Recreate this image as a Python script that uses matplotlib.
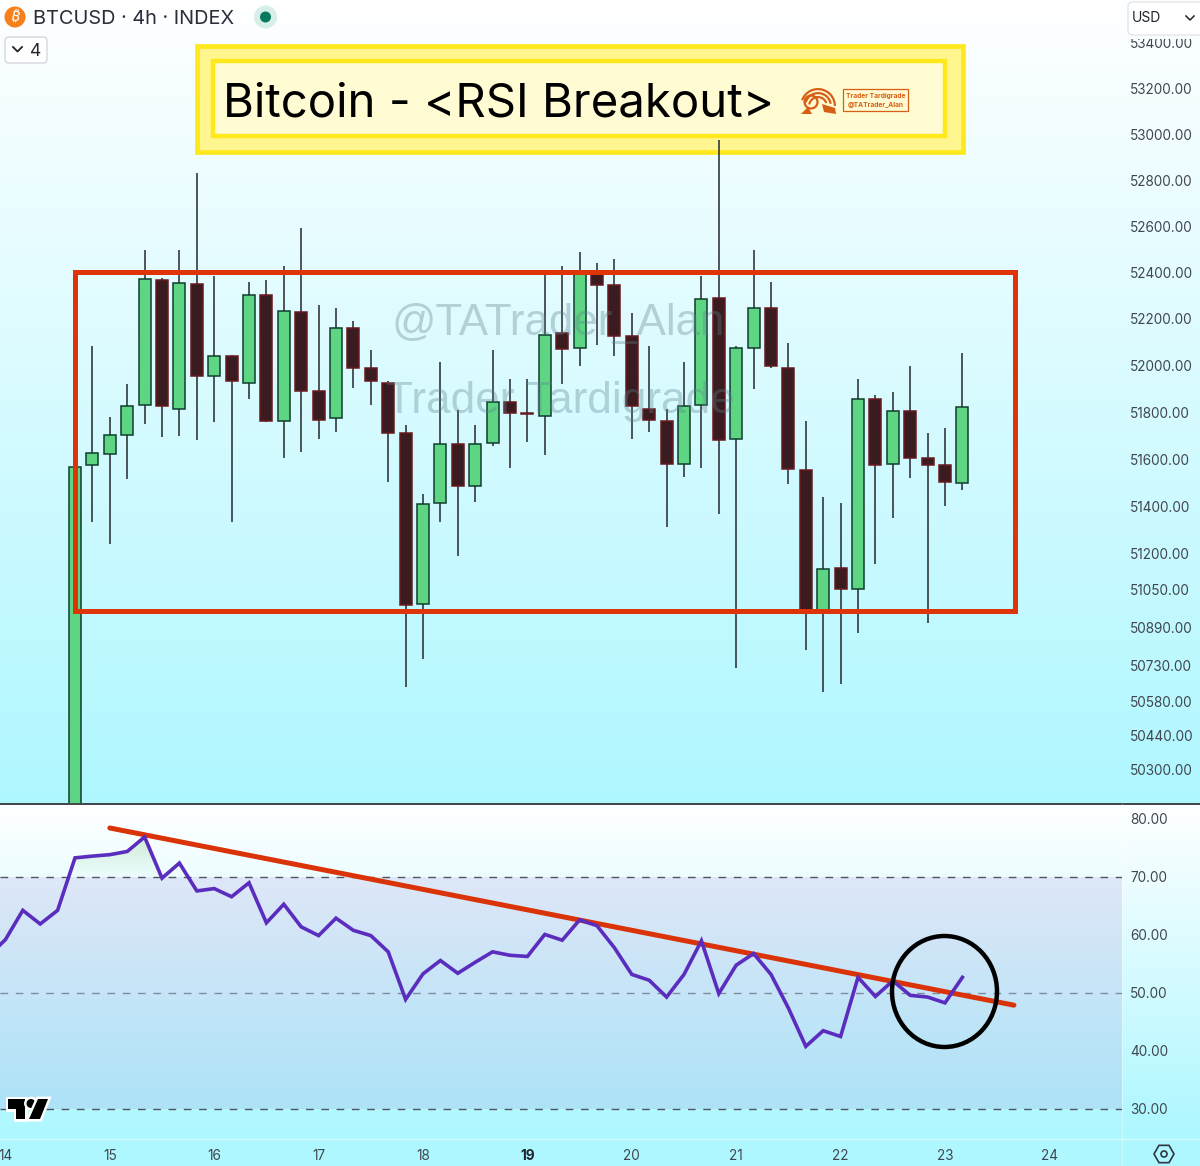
import numpy as np
import matplotlib
matplotlib.use("Agg")
import matplotlib.pyplot as plt
from matplotlib.patches import Rectangle, Ellipse, Circle, FancyBboxPatch, Polygon, Wedge, RegularPolygon
from matplotlib.colors import LinearSegmentedColormap
from matplotlib.ticker import NullLocator, FixedLocator, FixedFormatter
import matplotlib.patheffects as pe

plt.rcParams['font.family'] = ['Inter', 'DejaVu Sans']

# ---------- data ----------
opens = [49900, 51577, 51624, 51705, 51833, 52366, 51816, 52349, 51957, 52039, 51927, 52305, 51761,
         52228, 51889, 51774, 52163, 51991, 51927, 51710, 50990, 51415, 51667, 51488, 51671, 51842,
         51795, 51786, 52138, 52073, 52404, 52344, 52125, 51816, 51765, 51582, 51833, 52288, 51688,
         52073, 52245, 51991, 51556, 50961, 51141, 51053, 51855, 51582, 51804, 51607, 51577, 51500]
closes = [51569, 51628, 51705, 51829, 52370, 51825, 52353, 51957, 52039, 51932, 52305, 51765, 52232,
          51893, 51769, 52163, 51991, 51932, 51710, 50986, 51411, 51667, 51488, 51663, 51842, 51799,
          51791, 52129, 52069, 52404, 52344, 52125, 51825, 51769, 51582, 51829, 52284, 51684, 52073,
          52245, 51996, 51560, 50961, 51137, 51053, 51855, 51577, 51804, 51607, 51577, 51505, 51821]
highs = [51569, 52082, 51778, 51923, 52496, 52374, 52496, 52831, 52383, 52043, 52357, 52366, 52426,
         52591, 52258, 52245, 52189, 52065, 51932, 51744, 51453, 52017, 51808, 51744, 52065, 51944,
         51944, 52391, 52426, 52487, 52443, 52456, 52224, 52082, 51816, 52017, 52383, 52974, 52082,
         52496, 52357, 52095, 51765, 51440, 51415, 51944, 51872, 51885, 51996, 51710, 51735, 52052]
lows = [49900, 51334, 51240, 51517, 51752, 51693, 51697, 51680, 51757, 51334, 51855, 51757, 51607,
        51633, 51688, 51714, 51902, 51833, 51505, 50641, 50759, 51334, 51192, 51419, 51658, 51564,
        51675, 51620, 51919, 51996, 52086, 52039, 51688, 51714, 51313, 51526, 51564, 51368, 50721,
        51898, 51991, 51496, 50797, 50620, 50654, 50868, 51158, 51351, 51522, 50910, 51402, 51471]
rsi_start = -5
rsi = [56.3, 59.2, 64.25, 61.9, 64.25, 73.3, 73.6, 73.85, 74.4, 76.9, 69.8, 72.4, 67.6, 68.0, 66.6,
       69.0, 62.1, 65.3, 61.4, 59.9, 62.9, 60.8, 59.9, 57.1, 48.9, 53.3, 55.6, 53.4, 55.3, 57.1, 56.5,
       56.3, 60.1, 59.1, 62.6, 61.6, 57.8, 53.2, 52.2, 49.3, 53.2, 59.0, 49.9, 54.8, 56.8, 53.2, 47.4,
       40.8, 43.5, 42.5, 52.7, 49.4, 52.1, 49.6, 49.3, 48.3, 52.7]
price_ticks = [53400, 53200, 53000, 52800, 52600, 52400, 52200, 52000, 51800, 51600, 51400, 51200,
               51050, 50890, 50730, 50580, 50440, 50300]
rsi_ticks = [80, 70, 60, 50, 40, 30]
rsi_levels = [70, 50, 30]
day_labels = ['14', '15', '16', '17', '18', '19', '20', '21', '22', '23', '24']
day_index = [-4, 2, 8, 14, 20, 26, 32, 38, 44, 50, 56]
trend_x = [2.0, 53.96]
trend_y = [78.45, 47.9]

W, H = 1200, 1166
GREEN, GREEN_E = '#5DD583', '#0F3D2C'
RED, RED_E = '#3A1C20', '#6A1A1E'
WICK = '#2B3034'
AXC = '#40464F'
CY = (0.686, 0.969, 1.0)

fig = plt.figure(figsize=(12, 11.66), dpi=100)

def rect(x0, y0, x1, y1):
    return [x0 / W, 1 - y1 / H, (x1 - x0) / W, (y1 - y0) / H]

cmap = LinearSegmentedColormap.from_list('bg', [(1, 1, 1), CY])
# backgrounds
bg1 = fig.add_axes(rect(0, 0, 1200, 803), zorder=0); bg1.axis('off')
bg1.imshow(np.linspace(0, 1, 256)[:, None], cmap=cmap, aspect='auto', vmin=0, vmax=1)
bg2 = fig.add_axes(rect(0, 804, 1200, 1166), zorder=0); bg2.axis('off')
bg2.imshow(np.clip(np.linspace(0, 1.11, 256), 0, 1)[:, None], cmap=cmap, aspect='auto', vmin=0, vmax=1)

# ---------- title banner (sits under the candles: one wick crosses it) ----------
bn = fig.add_axes([0, 0, 1, 1], zorder=0.5)
bn.set_xlim(0, W); bn.set_ylim(H, 0); bn.axis('off'); bn.patch.set_alpha(0)
bn.add_patch(Rectangle((197, 46), 766, 105.5, fc='#FFF68F', ec='#FFE81C', lw=3.4))
bn.add_patch(Rectangle((212.5, 61), 732, 75, fc='#FFFBD2', ec='#FFE81C', lw=3.2))
bn.text(223, 116.5, 'Bitcoin - <RSI Breakout>', fontsize=34.1, color='black', ha='left', va='baseline',
        family='Inter')
LC = '#D65F16'
for r, t1, t2 in [(18, 200, 360), (14, 195, 350), (10, 190, 340)]:
    bn.add_patch(Wedge((818, 106), r, t1, t2, width=2.2, fc=LC, ec='none'))
bn.add_patch(Circle((811, 102), 6.5, fc='none', ec=LC, lw=1.6))
bn.add_patch(Polygon([[801, 114], [808, 107], [812, 114]], fc=LC, ec='none'))
bn.add_patch(Polygon([[822, 104], [835, 108], [836, 114], [824, 112]], fc=LC, ec='none'))
bn.add_patch(Rectangle((843, 89), 64.5, 22, fill=False, ec=LC, lw=0.9))
bn.text(875.5, 96, 'Trader Tardigrade', fontsize=4.8, color=LC, ha='center', va='center', fontweight='bold')
bn.text(875.5, 105, '@TATrader_Alan', fontsize=4.8, color=LC, ha='center', va='center', fontweight='bold')

XL = (-75 / 17.4, (1122 - 75) / 17.4)
idx = np.arange(len(opens))

# ---------- price pane ----------
ax = fig.add_axes(rect(0, 0, 1122, 803), zorder=1)
ax.patch.set_alpha(0)
ax.set_yscale('log')
ax.set_xlim(*XL)
ax.set_ylim(50160, 53589)
for s in ax.spines.values():
    s.set_visible(False)
ax.xaxis.set_major_locator(NullLocator())
ax.yaxis.set_minor_locator(NullLocator())
ax.yaxis.set_major_locator(FixedLocator(price_ticks))
ax.yaxis.set_major_formatter(FixedFormatter([f'{p:.2f}' for p in price_ticks]))
ax.yaxis.tick_right()
ax.tick_params(axis='y', length=0, pad=6, labelsize=9.8, labelcolor=AXC)

ax.vlines(idx, lows, highs, color=WICK, lw=1.15, zorder=2)
for i in idx:
    o, c = opens[i], closes[i]
    up = c >= o
    ax.bar(i, max(abs(c - o), 3), bottom=min(o, c), width=0.68, color=GREEN if up else RED,
           edgecolor=GREEN_E if up else RED_E, linewidth=1.1, zorder=3)

# ---------- RSI pane ----------
rx = fig.add_axes(rect(0, 804, 1122, 1166), zorder=1)
rx.patch.set_alpha(0)
rx.set_xlim(*XL)
YL = (30 - (1166 - 1109) / 5.8, 80 + 15 / 5.8)
rx.set_ylim(*YL)
for s in rx.spines.values():
    s.set_visible(False)
rsi_x = np.arange(len(rsi)) + rsi_start
rsi_v = np.array(rsi)
rx.axhspan(30, 70, color='#7E57C2', alpha=0.13, lw=0, zorder=1)
# overbought fill: green gradient clipped to the area between the line and 70
clip_poly = rx.fill_between(rsi_x, 70, rsi_v, where=rsi_v > 70, interpolate=True, color='none', lw=0)
grad = np.zeros((64, 2, 4))
grad[..., 0], grad[..., 1], grad[..., 2] = 0.30, 0.69, 0.31
grad[..., 3] = np.linspace(0.24, 0.0, 64)[:, None]
im = rx.imshow(grad, extent=(XL[0], XL[1], 70, 77), origin='upper', aspect='auto', zorder=1.5)
paths = clip_poly.get_paths()
im.set_clip_path(paths[0], transform=rx.transData)
rx.set_xlim(*XL); rx.set_ylim(*YL)
for lv, col in zip(rsi_levels, ['#4D5560', '#7F8C99', '#4D5560']):
    rx.axhline(lv, color=col, lw=1.0, dashes=(5.5, 5.5), zorder=2)
rx.plot(trend_x, trend_y, color='#DB3308', lw=3.6, solid_capstyle='round', zorder=3)
rx.plot(rsi_x, rsi_v, color='#5A2DBE', lw=2.6, solid_joinstyle='miter', zorder=4)
rx.yaxis.set_major_locator(FixedLocator(rsi_ticks))
rx.yaxis.set_major_formatter(FixedFormatter([f'{v:.2f}' for v in rsi_ticks]))
rx.yaxis.tick_right()
rx.tick_params(axis='y', length=0, pad=6, labelsize=9.8, labelcolor=AXC)
rx.xaxis.set_major_locator(FixedLocator(day_index))
rx.xaxis.set_major_formatter(FixedFormatter(day_labels))
rx.tick_params(axis='x', length=0, direction='in', pad=-12.6, labelsize=9.8, labelcolor=AXC)
for t in rx.get_xticklabels():
    if t.get_text() == '19':
        t.set_fontweight('bold')
        t.set_color('#1F2430')

# ---------- overlay (annotations, in pixel coordinates) ----------
ov = fig.add_axes([0, 0, 1, 1], zorder=5)
ov.set_xlim(0, W); ov.set_ylim(H, 0); ov.axis('off'); ov.patch.set_alpha(0)

# pane separators
ov.plot([0, 1200], [803.5, 803.5], color='#1E252B', lw=1.2)
ov.plot([0, 1200], [1138.5, 1138.5], color='white', lw=0.8, alpha=0.5)
ov.plot([1122, 1122], [804, 1166], color='white', lw=0.8, alpha=0.4)

# watermarks
ov.text(558.5, 323, '@TATrader_Alan', fontsize=31.5, color='#5B8088', alpha=0.34, ha='center', va='center',
        family='Liberation Sans')
ov.text(560, 402, 'Trader Tardigrade', fontsize=31.8, color='#5B8088', alpha=0.34, ha='center', va='center',
        family='Liberation Sans')

# red range box and breakout circle
ov.add_patch(Rectangle((75, 272), 940, 339, fill=False, ec='#DE3407', lw=3.6, joinstyle='miter'))
ov.add_patch(Ellipse((944.5, 991.5), 105, 111, fill=False, ec='black', lw=3.2))

# header
ov.add_patch(Circle((15, 17), 10.5, fc='#F7801A', ec='none'))
ov.text(15, 17, '₿', fontsize=11, color='white', ha='center', va='center', rotation=-12,
        family=['Noto Sans', 'Roboto', 'Open Sans', 'Lato', 'Liberation Sans', 'DejaVu Sans'], fontweight='bold')
ov.text(33, 19.5, 'BTCUSD · 4h · INDEX', fontsize=14.35, color='#2A2E39', ha='left', va='center')
ov.add_patch(Circle((265.5, 17), 11.5, fc='#D6EFE9', ec='none'))
ov.add_patch(Circle((265.5, 17), 5.5, fc='#08795F', ec='none'))
ov.add_patch(FancyBboxPatch((5, 37), 42, 26, boxstyle='round,pad=0,rounding_size=4', fc='white', ec='#D4D8DE', lw=1))
ov.plot([13, 17.5, 22], [47, 51.5, 47], color='#20242C', lw=1.3)
ov.text(35.5, 52, '4', fontsize=12.5, color='#20242C', ha='center', va='center')

# USD button (hides the top of the highest price label, as in the original)
ov.add_patch(Rectangle((1124, 0), 76, 39, fc='#FBFEFF', ec='none'))
ov.add_patch(FancyBboxPatch((1128, 2), 90, 33, boxstyle='round,pad=0,rounding_size=5', fc='white', ec='#E3E6EA', lw=1))
ov.text(1146, 18, 'USD', fontsize=10, color='#20242C', ha='center', va='center')
ov.plot([1186, 1190, 1194], [16, 20, 16], color='#20242C', lw=1.1)

# TradingView mark
halo = [pe.withStroke(linewidth=3.5, foreground='white')]
ov.add_patch(Polygon([[8, 1099], [25, 1099], [25, 1119], [16, 1119], [16, 1109], [8, 1109]], fc='black', ec='none', path_effects=halo))
ov.add_patch(Circle((31, 1103.5), 4.5, fc='black', ec='none', path_effects=halo))
ov.add_patch(Polygon([[38, 1099], [48, 1099], [40, 1119], [29, 1119]], fc='black', ec='none', path_effects=halo))

# settings hexagon
ov.add_patch(RegularPolygon((1164, 1154), 6, radius=10, orientation=np.pi / 2, fill=False, ec='#2F3540', lw=1.2))
ov.add_patch(Circle((1164, 1154), 3, fill=False, ec='#2F3540', lw=1.2))

fig.savefig('out.png', dpi=100)
